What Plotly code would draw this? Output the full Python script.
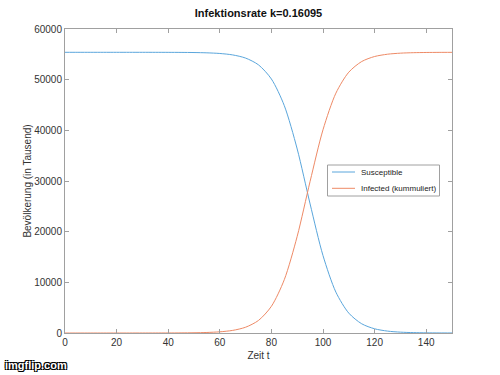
import plotly.graph_objects as go

t = [0, 5, 10, 15, 20, 25, 30, 35, 40, 45, 50, 55, 60, 65, 70, 75, 80, 85, 90, 95,
     100, 105, 110, 115, 120, 125, 130, 135, 140, 145, 150]
susceptible = [55400, 55400, 55400, 55400, 55400, 55400, 55399, 55397, 55391, 55379,
               55353, 55296, 55168, 54885, 54260, 52920, 50130, 44870, 36320, 25470,
               15280, 8060, 3920, 1820, 830, 375, 168, 75, 34, 14, 5]
infected = [0, 0, 0, 0, 0, 0, 1, 3, 9, 21, 47, 104, 232, 515, 1140, 2480, 5270,
            10530, 19080, 29930, 40120, 47340, 51480, 53580, 54570, 55025, 55232,
            55325, 55366, 55386, 55395]

series_names = ["Susceptible", "Infected (kummuliert)"]
series_colors = ["#5aa6dc", "#ee8a66"]

title = "Infektionsrate k=0.16095"
x_label = "Zeit t"
y_label = "Bevölkerung (in Tausend)"
x_ticks = [0, 20, 40, 60, 80, 100, 120, 140]
y_ticks = [0, 10000, 20000, 30000, 40000, 50000, 60000]
y_tick_text = ["0", "10000", "20000", "30000", "40000", "50000", "60000"]

FONT = "Liberation Sans, Arial, Helvetica, sans-serif"

# plot area geometry (pixels)
L, R, T, B = 65, 452, 29, 333
PW, PH = R - L, B - T


def px(x):
    return (x - L) / PW


def py(y):
    return (B - y) / PH


fig = go.Figure()
for name, vals, col in zip(series_names, [susceptible, infected], series_colors):
    fig.add_trace(go.Scatter(x=t, y=vals, mode="lines", name=name, showlegend=False,
                             line=dict(color=col, width=1, shape="spline", smoothing=0.8)))

axis_common = dict(showline=True, linecolor="#a0a0a0", linewidth=1, mirror="ticks",
                   ticks="inside", ticklen=4, tickcolor="#a0a0a0", showgrid=False,
                   zeroline=False, tickfont=dict(size=10, color="#333333", family=FONT))

fig.update_layout(
    width=500, height=375,
    margin=dict(l=L, r=500 - R, t=T, b=375 - B),
    paper_bgcolor="white", plot_bgcolor="white",
    font=dict(family=FONT, color="#222222"),
    title=dict(text="<b>" + title + "</b>", x=(L + R) / 2 / 500, xanchor="center",
               y=1 - 13 / 375, yanchor="middle", font=dict(size=11, color="#111111")),
    xaxis=dict(range=[0, 150], tickvals=x_ticks,
               title=dict(text=x_label, font=dict(size=10, color="#333333"), standoff=4),
               **axis_common),
    yaxis=dict(range=[0, 60000], tickvals=y_ticks, ticktext=y_tick_text,
               title=dict(text=y_label, font=dict(size=10, color="#333333"), standoff=0),
               **axis_common),
    showlegend=False,
)

# legend box (drawn manually to match compact MATLAB legend)
fig.add_shape(type="rect", xref="paper", yref="paper",
              x0=px(327.5), x1=px(439.5), y0=py(196), y1=py(165),
              line=dict(color="#a0a0a0", width=1), fillcolor="white", layer="above")
for i, (name, col) in enumerate(zip(series_names, series_colors)):
    yy = 172 + i * 16.3
    fig.add_shape(type="line", xref="paper", yref="paper",
                  x0=px(332), x1=px(355), y0=py(yy), y1=py(yy),
                  line=dict(color=col, width=1), layer="above")
    fig.add_annotation(text=name, xref="paper", yref="paper", x=px(359), y=py(yy),
                       xanchor="left", yanchor="middle", showarrow=False,
                       font=dict(size=8, color="#222222", family=FONT))

fig.add_annotation(text="<b>imgflip.com</b>", xref="paper", yref="paper",
                   x=-62 / PW, y=-40 / PH, xanchor="left",
                   yanchor="bottom", showarrow=False,
                   font=dict(size=11, color="white", family=FONT,
                             shadow="1px 1px 0 #000, -1px -1px 0 #000, 1px -1px 0 #000, -1px 1px 0 #000"))

fig.write_html("out.html")
